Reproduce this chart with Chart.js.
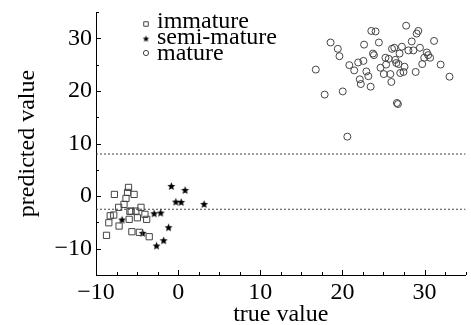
<!DOCTYPE html>
<html>
<head>
<meta charset="utf-8">
<script src="https://cdn.jsdelivr.net/npm/chart.js@4"></script>
<style>
  html, body { margin: 0; padding: 0; background: #fff; }
</style>
</head>
<body>
<canvas id="chart" width="471" height="325"></canvas>
<script>
const xTicks = [-10, 0, 10, 20, 30];
const yTicks = [-10, 0, 10, 20, 30];
const thresholds = [8, -2.5];

const immature = [
  [-6.04, 1.65], [-5.36, 0.32], [-7.76, 0.32], [-6.16, 0.7], [-6.35, -0.44],
  [-7.24, -2.14], [-6.59, -1.57], [-5.72, -2.85], [-5.15, -2.85], [-4.52, -2.14],
  [-8.27, -3.74], [-7.84, -3.6], [-8.44, -5.07], [-7.19, -5.69], [-5.96, -4.42],
  [-4.96, -4.12], [-4.04, -3.47], [-3.83, -4.42], [-5.63, -6.77], [-4.72, -6.89],
  [-3.52, -7.72], [-8.72, -7.46], [-5.87, -2.9]
];
const semiMature = [
  [-0.83, 1.84], [0.85, 1.08], [-0.28, -1.14], [0.37, -1.2], [3.16, -1.58],
  [-2.92, -3.36], [-2.12, -3.23], [-6.83, -4.55], [-4.31, -7.08], [-1.16, -6.01],
  [-1.76, -8.48], [-2.63, -9.49]
];
const mature = [
  [16.76, 24.05], [17.84, 19.3], [18.56, 29.2], [19.44, 28.0], [19.64, 26.6],
  [20.04, 19.9], [20.6, 11.3], [20.84, 24.9], [21.44, 23.9], [21.92, 25.4],
  [22.12, 22.2], [22.24, 21.3], [22.56, 25.7], [22.64, 28.8], [22.92, 23.7],
  [23.16, 22.8], [23.44, 20.8], [23.52, 31.4], [23.72, 27.1], [23.84, 26.8],
  [24.04, 31.3], [24.44, 29.2], [24.64, 24.4], [25.04, 23.2], [25.24, 26.3],
  [25.32, 25.0], [25.64, 26.1], [25.84, 23.2], [25.96, 21.7], [26.04, 28.0],
  [26.32, 28.2], [26.44, 25.9], [26.56, 25.3], [26.64, 17.7], [26.76, 17.5],
  [26.84, 25.1], [26.96, 27.1], [27.04, 23.4], [27.24, 28.4], [27.44, 23.6],
  [27.56, 24.6], [27.76, 32.4], [28.04, 27.7], [28.44, 29.4], [28.64, 27.7],
  [28.92, 23.6], [29.04, 30.9], [29.24, 31.4], [29.44, 28.2], [29.72, 25.1],
  [29.96, 26.3], [30.28, 27.3], [30.44, 26.8], [30.68, 26.3], [31.16, 29.5],
  [31.96, 25.0], [33.04, 22.7]
];

const serif = "'Liberation Serif', 'DejaVu Serif', serif";

function makeStar(r) {
  const c = document.createElement('canvas');
  const s = Math.ceil(r * 2) + 2;
  c.width = s; c.height = s;
  const g = c.getContext('2d');
  g.beginPath();
  for (let i = 0; i < 10; i++) {
    const a = -Math.PI / 2 + i * Math.PI / 5;
    const rr = i % 2 ? r * 0.45 : r;
    g.lineTo(s / 2 + rr * Math.cos(a), s / 2 + rr * Math.sin(a));
  }
  g.closePath();
  g.fillStyle = '#000';
  g.fill();
  return c;
}
const starPoint = makeStar(4.2);
const starLegend = makeStar(3.4);

const toXY = arr => arr.map(p => ({ x: p[0], y: p[1] }));
const fmt = v => (v < 0 ? '\u2212' + Math.abs(v) : String(v));

// inward tick marks on left and bottom axes
const innerTicks = {
  id: 'innerTicks',
  afterDraw(chart) {
    const { ctx, chartArea, scales: { x, y } } = chart;
    ctx.save();
    ctx.strokeStyle = '#000';
    ctx.lineWidth = 1;
    ctx.beginPath();
    for (let v = -10; v <= 35; v += 2.5) {
      const px = Math.round(x.getPixelForValue(v)) + 0.5;
      const len = v % 10 === 0 ? 5 : 3;
      ctx.moveTo(px, chartArea.bottom);
      ctx.lineTo(px, chartArea.bottom - len);
    }
    for (let v = -15; v <= 35; v += 5) {
      const py = Math.round(y.getPixelForValue(v)) + 0.5;
      const len = v % 10 === 0 ? 5 : 3;
      ctx.moveTo(chartArea.left, py);
      ctx.lineTo(chartArea.left + len, py);
    }
    ctx.stroke();
    ctx.restore();
  }
};

// legend drawn inside the plot area, top-left
const innerLegend = {
  id: 'innerLegend',
  afterDraw(chart) {
    const { ctx } = chart;
    const rows = [
      { ds: 0, style: 'rect', radius: 3.2, y: 22, my: 24 },
      { ds: 1, style: starLegend, radius: 3, y: 38, my: 39 },
      { ds: 2, style: 'circle', radius: 2.6, y: 54, my: 53 }
    ];
    ctx.save();
    ctx.font = '24px ' + serif;
    ctx.textBaseline = 'middle';
    rows.forEach(r => {
      ctx.strokeStyle = '#444';
      ctx.fillStyle = '#fff';
      ctx.lineWidth = 1;
      Chart.helpers.drawPoint(ctx, { pointStyle: r.style, radius: r.radius, borderWidth: 1, rotation: 0 }, 146, r.my);
      ctx.fillStyle = '#000';
      ctx.fillText(chart.data.datasets[r.ds].label, 157, r.y);
    });
    ctx.restore();
  }
};

new Chart(document.getElementById('chart'), {
  type: 'scatter',
  data: {
    datasets: [
      {
        label: 'immature',
        data: toXY(immature),
        pointStyle: 'rect',
        pointRadius: 4.4,
        borderColor: '#444',
        backgroundColor: 'rgba(255,255,255,0)',
        borderWidth: 1
      },
      {
        label: 'semi-mature',
        data: toXY(semiMature),
        pointStyle: starPoint,
        pointRadius: 4,
        borderColor: '#000',
        backgroundColor: '#000'
      },
      {
        label: 'mature',
        data: toXY(mature),
        pointStyle: 'circle',
        pointRadius: 3.5,
        borderColor: '#444',
        backgroundColor: 'rgba(255,255,255,0)',
        borderWidth: 1
      },
      ...thresholds.map(t => ({
        label: 'threshold ' + t,
        type: 'line',
        data: [{ x: -10, y: t }, { x: 35, y: t }],
        borderColor: '#444',
        borderWidth: 1,
        borderDash: [2, 2],
        pointRadius: 0,
        fill: false
      }))
    ]
  },
  options: {
    responsive: false,
    animation: false,
    layout: { padding: { top: 12, right: 0, left: 0, bottom: 0 } },
    scales: {
      x: {
        type: 'linear',
        min: -10,
        max: 35,
        afterBuildTicks: s => { s.ticks = xTicks.map(v => ({ value: v })); },
        afterFit: s => { s.height = 50; s.paddingLeft = 0; s.paddingRight = 0; },
        grid: { display: true, drawOnChartArea: false, drawTicks: false },
        border: { display: true, color: '#000', width: 1 },
        ticks: {
          color: '#000',
          padding: 3,
          maxRotation: 0,
          font: { family: serif, size: 24 },
          callback: v => fmt(v)
        },
        title: {
          display: true,
          text: 'true value',
          color: '#000',
          font: { family: serif, size: 24 },
          padding: { top: 0, bottom: -4 }
        }
      },
      y: {
        type: 'linear',
        min: -15,
        max: 35,
        afterBuildTicks: s => { s.ticks = yTicks.map(v => ({ value: v })); },
        afterFit: s => { s.width = 96; s.paddingTop = 0; s.paddingBottom = 0; },
        grid: { display: true, drawOnChartArea: false, drawTicks: false },
        border: { display: true, color: '#000', width: 1 },
        ticks: {
          color: '#000',
          padding: 4,
          font: { family: serif, size: 24 },
          callback: v => fmt(v)
        },
        title: {
          display: true,
          text: 'predicted value',
          color: '#000',
          font: { family: serif, size: 24 },
          padding: { top: 13, bottom: 0 }
        }
      }
    },
    plugins: {
      legend: { display: false },
      tooltip: { enabled: false }
    }
  },
  plugins: [innerTicks, innerLegend]
});
</script>
</body>
</html>
